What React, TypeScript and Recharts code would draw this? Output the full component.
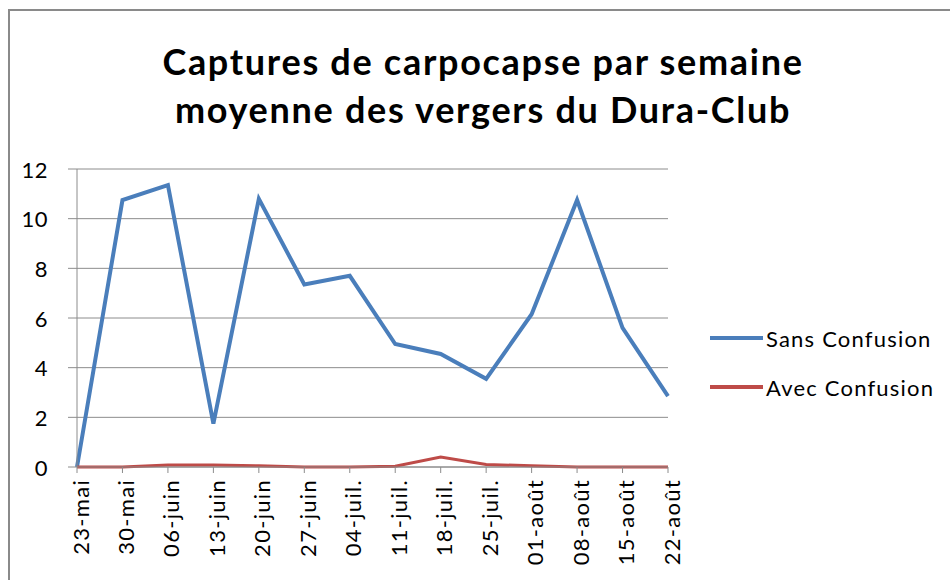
import React from 'react';
import { LineChart, Line, XAxis, YAxis, CartesianGrid } from 'recharts';

const weeks = ['23-mai', '30-mai', '06-juin', '13-juin', '20-juin', '27-juin', '04-juil.', '11-juil.', '18-juil.', '25-juil.', '01-août', '08-août', '15-août', '22-août'];
const sansConfusion = [0, 10.75, 11.35, 1.75, 10.8, 7.35, 7.7, 4.95, 4.55, 3.55, 6.15, 10.75, 5.6, 2.85];
const avecConfusion = [0, 0, 0.08, 0.08, 0.05, 0, 0, 0.03, 0.4, 0.1, 0.05, 0, 0, 0];
const yTicks = [0, 2, 4, 6, 8, 10, 12];

const series = [
  { key: 'sans', name: 'Sans Confusion', color: '#4A7EBB', width: 4 },
  { key: 'avec', name: 'Avec Confusion', color: '#BE4B48', width: 3 },
];

const data = weeks.map((w, i) => ({ week: w, sans: sansConfusion[i], avec: avecConfusion[i] }));

const FONT = 'Lato, "Open Sans", sans-serif';

// rotated category labels, reading bottom to top
const WeekTick = (props: any) => {
  const { x, y, payload } = props;
  return (
    <text
      x={x + 3}
      y={y + 2}
      transform={`rotate(-90, ${x + 3}, ${y + 2})`}
      textAnchor="end"
      dominantBaseline="central"
      fontSize={22}
      letterSpacing={1.3}
      fontFamily={FONT}
      fill="#000"
    >
      {payload.value}
    </text>
  );
};

const ValueTick = (props: any) => {
  const { x, y, payload } = props;
  return (
    <text x={x} y={y} textAnchor="end" dominantBaseline="central" fontSize={22} letterSpacing={0.5} fontFamily={FONT} fill="#000">
      {payload.value}
    </text>
  );
};

const App: React.FC = () => {
  return (
    <div style={{ position: 'relative', width: 950, height: 580, background: '#fff', overflow: 'hidden' }}>
      <style>{'body{margin:0}'}</style>
      {/* chart frame */}
      <div style={{ position: 'absolute', left: 8, top: 9, width: 950, height: 600, borderLeft: '2px solid #8a8a8a', borderTop: '2px solid #8a8a8a' }} />

      {/* Title */}
      <div style={{ position: 'absolute', left: 0, top: 37, width: 966, textAlign: 'center', fontFamily: FONT, fontWeight: 700, fontSize: 36, letterSpacing: 1.7, lineHeight: '48px', color: '#000' }}>
        Captures de carpocapse par semaine
        <br />
        moyenne des vergers du Dura-Club
      </div>

      <div style={{ position: 'absolute', left: 0, top: 0 }}>
        <LineChart width={950} height={580} data={data} margin={{ top: 169, right: 282, left: 0, bottom: 0 }}>
          <CartesianGrid vertical={false} stroke="#8c8c8c" strokeWidth={1} />
          <XAxis
            dataKey="week"
            interval={0}
            stroke="#8c8c8c"
            tickLine={{ stroke: '#8c8c8c' }}
            tickSize={6}
            tickMargin={4}
            tick={<WeekTick />}
            height={113}
          />
          <YAxis
            domain={[0, 12]}
            ticks={yTicks}
            width={77}
            stroke="#8c8c8c"
            tickLine={{ stroke: '#8c8c8c' }}
            tickSize={9}
            tickMargin={20}
            tick={<ValueTick />}
          />
          {series.map((s) => (
            <Line
              key={s.key}
              type="linear"
              dataKey={s.key}
              name={s.name}
              stroke={s.color}
              strokeWidth={s.width}
              dot={false}
              activeDot={false}
              isAnimationActive={false}
            />
          ))}
        </LineChart>
      </div>

      {/* Legend */}
      {series.map((s, i) => (
        <div key={s.key} style={{ position: 'absolute', left: 710, top: 324 + i * 49, height: 28, display: 'flex', alignItems: 'center', fontFamily: FONT, fontSize: 22, letterSpacing: 1.2, color: '#000', whiteSpace: 'nowrap' }}>
          <span style={{ display: 'inline-block', width: 53, height: 4, background: s.color, marginRight: 3 }} />
          {s.name}
        </div>
      ))}
    </div>
  );
};

export default App;
